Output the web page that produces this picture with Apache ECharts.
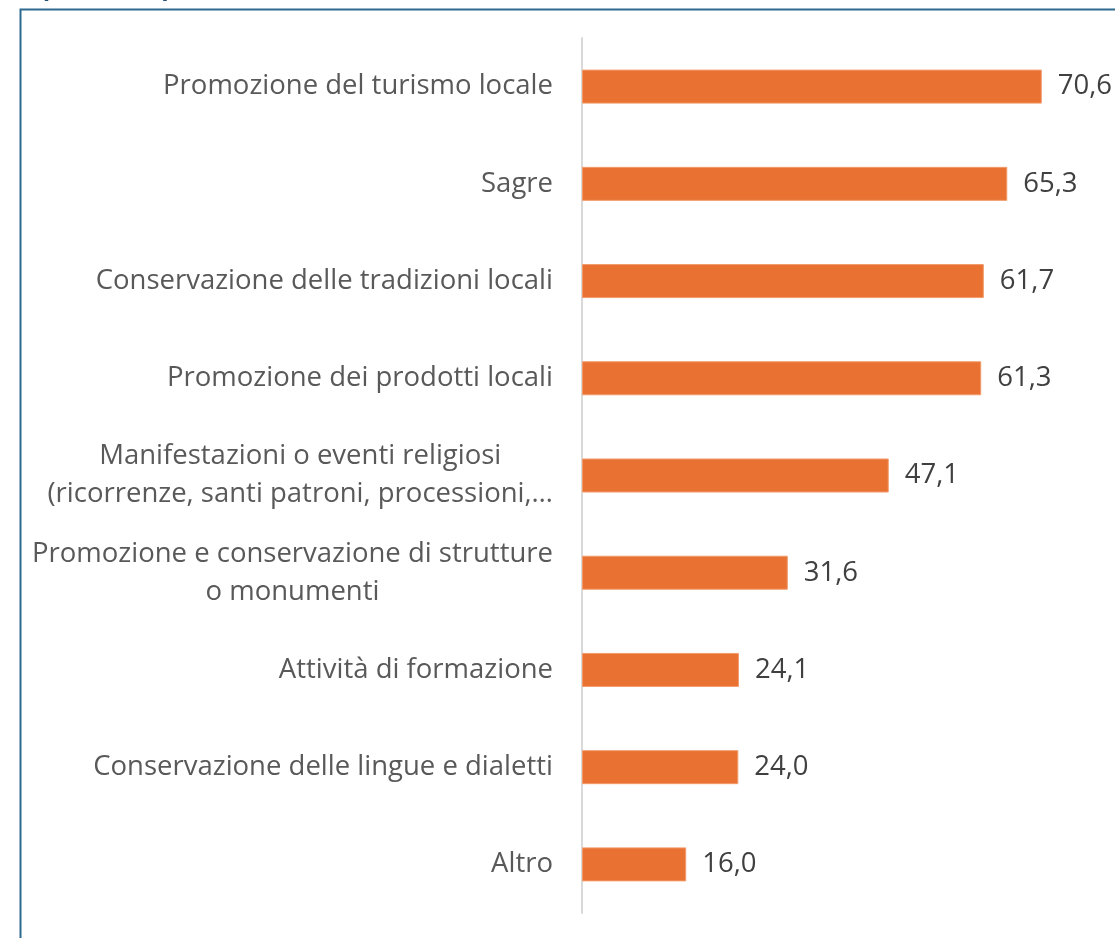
<!DOCTYPE html>
<html>
<head>
<meta charset="utf-8">
<script src="https://cdn.jsdelivr.net/npm/echarts@6/dist/echarts.min.js"></script>
<style>
html,body{margin:0;padding:0;background:#fff;}
#chart{width:1115px;height:938px;}
</style>
</head>
<body>
<div id="chart"></div>
<script>
const categories = [
  "Promozione del turismo locale",
  "Sagre",
  "Conservazione delle tradizioni locali",
  "Promozione dei prodotti locali",
  "Manifestazioni o eventi religiosi\n(ricorrenze, santi patroni, processioni,…",
  "Promozione e conservazione di strutture\no monumenti",
  "Attività di formazione",
  "Conservazione delle lingue e dialetti",
  "Altro"
];
const values = [70.6, 65.3, 61.7, 61.3, 47.1, 31.6, 24.1, 24.0, 16.0];
const titleText = "(valori %)";

const FONT = "'Open Sans', 'Liberation Sans', sans-serif";
const FS = 27.5;
const chart = echarts.init(document.getElementById('chart'), null, {renderer: 'canvas'});
chart.setOption({
  backgroundColor: '#ffffff',
  animation: false,
  graphic: [
    {type: 'rect', left: 18, top: 7, shape: {x: 0, y: 0, width: 1200, height: 1000},
     style: {fill: 'none', stroke: '#2e6a90', lineWidth: 2}, silent: true, z: 0},
    {type: 'text', left: 40, top: -25,
     style: {text: titleText, font: "bold 28px 'Open Sans', sans-serif", fill: '#1f4e79'}, z: 1}
  ],
  grid: {left: 582, top: 38, width: 521, height: 875, containLabel: false},
  xAxis: {type: 'value', min: 0, max: 80, show: false, splitLine: {show: false}},
  yAxis: {
    type: 'category', data: categories, inverse: true,
    axisLine: {show: true, lineStyle: {color: '#d9d9d9', width: 2}},
    axisTick: {show: false},
    axisLabel: {
      fontFamily: FONT, fontSize: FS, color: '#595959', margin: 29, lineHeight: 38,
      formatter: function (v) {
        if (v.indexOf('\n') < 0) return v;
        return v.split('\n').map(s => '{c|' + s + '}').join('\n');
      },
      rich: {c: {align: 'center', fontFamily: FONT, fontSize: FS, color: '#595959', lineHeight: 38}}
    }
  },
  series: [{
    type: 'bar', data: values, barWidth: 34,
    itemStyle: {color: '#e97132', borderColor: '#f29a6a', borderWidth: 1},
    label: {
      show: true, position: 'right', distance: 16,
      fontFamily: FONT, fontSize: FS, color: '#404040',
      formatter: p => p.value.toFixed(1).replace('.', ',')
    }
  }]
});
</script>
</body>
</html>
